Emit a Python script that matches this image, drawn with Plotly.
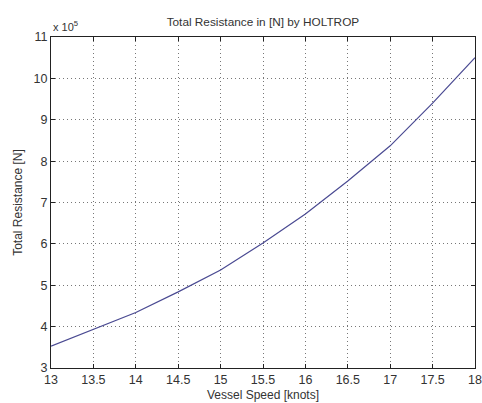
import plotly.graph_objects as go

# Holtrop total resistance versus vessel speed
speed_knots = [13.0, 13.5, 14.0, 14.5, 15.0, 15.5, 16.0, 16.5, 17.0, 17.5, 18.0]
resistance_n = [353000, 393000, 434000, 484000, 537000, 602000, 672000,
                752000, 837000, 940000, 1050000]

x_ticks = [13, 13.5, 14, 14.5, 15, 15.5, 16, 16.5, 17, 17.5, 18]
x_tick_text = ["13", "13.5", "14", "14.5", "15", "15.5", "16", "16.5", "17", "17.5", "18"]
y_ticks = [300000, 400000, 500000, 600000, 700000, 800000, 900000, 1000000, 1100000]
y_tick_text = ["3", "4", "5", "6", "7", "8", "9", "10", "11"]

fig = go.Figure()
fig.add_trace(go.Scatter(
    x=speed_knots, y=resistance_n, mode="lines",
    line=dict(color="#4a4a92", width=1.2),
    showlegend=False, hoverinfo="skip",
))

axis_common = dict(
    showline=True, linecolor="#222222", linewidth=1, mirror="ticks",
    ticks="inside", ticklen=4, tickcolor="#222222",
    showgrid=True, gridcolor="#777777", griddash="1px,3px", gridwidth=1,
    zeroline=False, automargin=False,
    tickfont=dict(size=12.5, color="#333333"),
)

fig.update_layout(
    width=482, height=403,
    margin=dict(l=51, r=7, t=37, b=35),
    paper_bgcolor="white", plot_bgcolor="white",
    font=dict(family="Liberation Sans, Arial, sans-serif", color="#333333"),
    title=dict(text="Total Resistance in [N] by HOLTROP", x=0.5455, xanchor="center",
               y=0.945, yanchor="middle", font=dict(size=11.8, color="#333333")),
    xaxis=dict(range=[13, 18], tickvals=x_ticks, ticktext=x_tick_text,
               title=dict(text="Vessel Speed [knots]", standoff=4,
                          font=dict(size=12, color="#333333")),
               **axis_common),
    yaxis=dict(range=[300000, 1100000], tickvals=y_ticks, ticktext=y_tick_text,
               title=dict(text="Total Resistance [N]", standoff=8,
                          font=dict(size=12, color="#333333")),
               **axis_common),
    annotations=[dict(
        text="x 10<sup>5</sup>", xref="paper", yref="paper", x=0.0, y=1.0,
        xanchor="left", yanchor="bottom", showarrow=False,
        font=dict(size=11, color="#333333"), yshift=2,
    )],
)

fig.write_html("out.html")
